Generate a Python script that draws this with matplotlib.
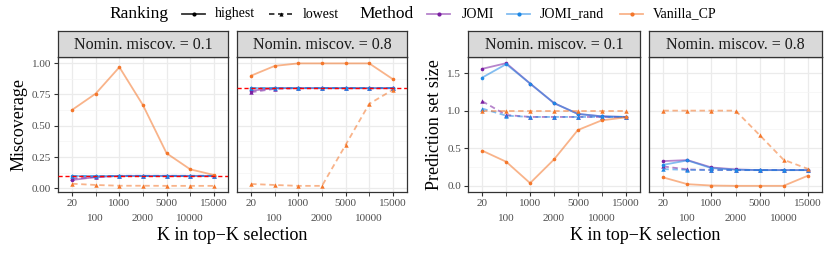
import matplotlib
matplotlib.use("Agg")
import matplotlib.pyplot as plt
from matplotlib.lines import Line2D
import numpy as np

plt.rcParams['font.family'] = ['Liberation Serif', 'DejaVu Serif']

K_labels = ['20', '100', '1000', '2000', '5000', '10000', '15000']

# miscoverage, nominal 0.1
jomi_hi_m01 = [0.067, 0.09, 0.10, 0.10, 0.10, 0.10, 0.10]
jomi_lo_m01 = [0.08, 0.09, 0.10, 0.10, 0.10, 0.10, 0.10]
rand_hi_m01 = [0.10, 0.10, 0.10, 0.10, 0.10, 0.10, 0.10]
rand_lo_m01 = [0.10, 0.098, 0.10, 0.10, 0.10, 0.10, 0.10]
van_hi_m01 = [0.627, 0.757, 0.968, 0.664, 0.28, 0.152, 0.107]
van_lo_m01 = [0.037, 0.027, 0.021, 0.021, 0.02, 0.02, 0.02]

# miscoverage, nominal 0.8
jomi_hi_m08 = [0.78, 0.80, 0.80, 0.80, 0.80, 0.80, 0.80]
jomi_lo_m08 = [0.768, 0.795, 0.80, 0.80, 0.80, 0.80, 0.80]
rand_hi_m08 = [0.80, 0.80, 0.80, 0.80, 0.80, 0.80, 0.80]
rand_lo_m08 = [0.80, 0.80, 0.80, 0.80, 0.80, 0.80, 0.80]
van_hi_m08 = [0.90, 0.978, 0.998, 0.998, 0.998, 0.998, 0.872]
van_lo_m08 = [0.035, 0.027, 0.02, 0.02, 0.347, 0.675, 0.787]

# prediction set size, nominal 0.1
jomi_hi_s01 = [1.556, 1.631, 1.36, 1.10, 0.956, 0.924, 0.916]
jomi_lo_s01 = [1.124, 0.942, 0.916, 0.916, 0.916, 0.916, 0.916]
rand_hi_s01 = [1.44, 1.618, 1.36, 1.10, 0.956, 0.924, 0.916]
rand_lo_s01 = [1.027, 0.933, 0.916, 0.916, 0.916, 0.916, 0.916]
van_hi_s01 = [0.467, 0.32, 0.036, 0.351, 0.742, 0.871, 0.91]
van_lo_s01 = [1.0, 1.0, 1.0, 1.0, 1.0, 1.0, 1.0]

# prediction set size, nominal 0.8
jomi_hi_s08 = [0.329, 0.342, 0.244, 0.218, 0.209, 0.209, 0.209]
jomi_lo_s08 = [0.258, 0.218, 0.212, 0.209, 0.209, 0.209, 0.209]
rand_hi_s08 = [0.28, 0.338, 0.235, 0.215, 0.209, 0.209, 0.209]
rand_lo_s08 = [0.222, 0.212, 0.209, 0.209, 0.209, 0.209, 0.209]
van_hi_s08 = [0.111, 0.022, 0.004, 0.0, 0.0, 0.0, 0.133]
van_lo_s08 = [1.0, 1.0, 1.0, 1.0, 0.676, 0.347, 0.227]

nominal = [0.1, 0.8]
methods = ['JOMI', 'JOMI_rand', 'Vanilla_CP']
colors = {'JOMI': '#7B1FA2', 'JOMI_rand': '#1E88E5', 'Vanilla_CP': '#F4762A'}

panels = [
    {'JOMI': (jomi_hi_m01, jomi_lo_m01), 'JOMI_rand': (rand_hi_m01, rand_lo_m01),
     'Vanilla_CP': (van_hi_m01, van_lo_m01)},
    {'JOMI': (jomi_hi_m08, jomi_lo_m08), 'JOMI_rand': (rand_hi_m08, rand_lo_m08),
     'Vanilla_CP': (van_hi_m08, van_lo_m08)},
    {'JOMI': (jomi_hi_s01, jomi_lo_s01), 'JOMI_rand': (rand_hi_s01, rand_lo_s01),
     'Vanilla_CP': (van_hi_s01, van_lo_s01)},
    {'JOMI': (jomi_hi_s08, jomi_lo_s08), 'JOMI_rand': (rand_hi_s08, rand_lo_s08),
     'Vanilla_CP': (van_hi_s08, van_lo_s08)},
]

W, H = 830, 254
fig = plt.figure(figsize=(W / 100, H / 100), dpi=100)

def box(x0, y0, x1, y1):
    return [x0 / W, 1 - y1 / H, (x1 - x0) / W, (y1 - y0) / H]

px = [(58, 228), (237, 407), (468, 640), (649, 822)]
ptop, pbot, stop = 57, 192, 31
x = np.arange(len(K_labels))
tick_grey = '#4D4D4D'

for i, (x0, x1) in enumerate(px):
    ax = fig.add_axes(box(x0, ptop, x1, pbot))
    miscov = i < 2
    for m in methods:
        hi, lo = panels[i][m]
        c = colors[m]
        ax.plot(x, hi, '-', color=c, lw=1.3, alpha=0.55, zorder=3)
        ax.plot(x, hi, 'o', color=c, ms=2.6, mew=0, zorder=4)
        ax.plot(x, lo, '--', color=c, lw=1.3, alpha=0.55, zorder=3, dashes=(3, 2))
        ax.plot(x, lo, '^', color=c, ms=3.2, mew=0, zorder=4)
    ax.set_xlim(-0.6, 6.6)
    if miscov:
        ax.set_ylim(-0.029, 1.049)
        ax.set_yticks([0, 0.25, 0.5, 0.75, 1.0])
        ax.set_yticks([0.125, 0.375, 0.625, 0.875], minor=True)
        ax.axhline(nominal[i], color='red', ls='--', lw=1.0, dashes=(3, 2), zorder=5)
    else:
        ax.set_ylim(-0.082, 1.713)
        ax.set_yticks([0, 0.5, 1.0, 1.5])
        ax.set_yticks([0.25, 0.75, 1.25], minor=True)
    # dodged labels: even positions on first row, odd positions on second row
    ax.set_xticks(x[::2])
    ax.set_xticklabels(K_labels[::2])
    ax.set_xticks(x[1::2], minor=True)
    ax.set_xticklabels(K_labels[1::2], minor=True)
    ax.grid(True, which='major', color='#EBEBEB', lw=0.9, zorder=0)
    ax.grid(True, which='minor', axis='x', color='#EBEBEB', lw=0.9, zorder=0)
    ax.grid(True, which='minor', axis='y', color='#F4F4F4', lw=0.5, zorder=0)
    ax.set_axisbelow(True)
    for s in ax.spines.values():
        s.set_color('#333333')
        s.set_linewidth(0.9)
    ax.tick_params(axis='x', which='major', length=3, color='#333333', labelsize=8,
                   labelcolor=tick_grey, pad=2)
    ax.tick_params(axis='x', which='minor', length=3, color='#333333', labelsize=8,
                   labelcolor=tick_grey, pad=13)
    ax.tick_params(axis='y', which='minor', length=0)
    if i % 2 == 0:
        ax.tick_params(axis='y', which='major', length=3, color='#333333', labelsize=8,
                       labelcolor=tick_grey, pad=2)
        ax.set_ylabel('Miscoverage' if miscov else 'Prediction set size', fontsize=13, labelpad=3)
    else:
        ax.tick_params(axis='y', which='major', length=0, labelleft=False)

    # strip
    sax = fig.add_axes(box(x0, stop, x1, ptop))
    sax.set_xticks([])
    sax.set_yticks([])
    sax.set_facecolor('#D9D9D9')
    for s in sax.spines.values():
        s.set_color('#333333')
        s.set_linewidth(0.9)
    sax.text(0.5, 0.48, 'Nomin. miscov. = %s' % nominal[i % 2], ha='center', va='center',
             fontsize=11.5, color='#1A1A1A', transform=sax.transAxes)

fig.text(((58 + 407) / 2) / W, 1 - 236 / H, 'K in top\u2212K selection', ha='center', va='center', fontsize=13)
fig.text(((468 + 822) / 2) / W, 1 - 236 / H, 'K in top\u2212K selection', ha='center', va='center', fontsize=13)

# legend row
ly = 1 - 14 / H

def key(xa, xb, style, marker, color, alpha):
    fig.lines.append(Line2D([xa / W, xb / W], [ly, ly], ls=style, color=color, lw=1.3,
                            alpha=alpha, transform=fig.transFigure, dashes=(3, 2) if style == '--' else (None, None)))
    fig.lines.append(Line2D([(xa + xb) / 2 / W], [ly], marker=marker, color=color, ms=3, mew=0,
                            ls='none', transform=fig.transFigure))

fig.text(109 / W, ly, 'Ranking', ha='left', va='center', fontsize=12.5)
key(182, 205, '-', 'o', 'black', 0.8)
fig.text(215 / W, ly, 'highest', ha='left', va='center', fontsize=10)
key(269, 292, '--', '^', 'black', 0.8)
fig.text(303 / W, ly, 'lowest', ha='left', va='center', fontsize=10)
fig.text(359 / W, ly, 'Method', ha='left', va='center', fontsize=12.5)
key(427, 450, '-', 'o', colors['JOMI'], 0.55)
fig.text(462 / W, ly, 'JOMI', ha='left', va='center', fontsize=10)
key(507, 530, '-', 'o', colors['JOMI_rand'], 0.55)
fig.text(540 / W, ly, 'JOMI_rand', ha='left', va='center', fontsize=10)
key(620, 643, '-', 'o', colors['Vanilla_CP'], 0.55)
fig.text(653 / W, ly, 'Vanilla_CP', ha='left', va='center', fontsize=10)

fig.savefig('out.png', dpi=100)
